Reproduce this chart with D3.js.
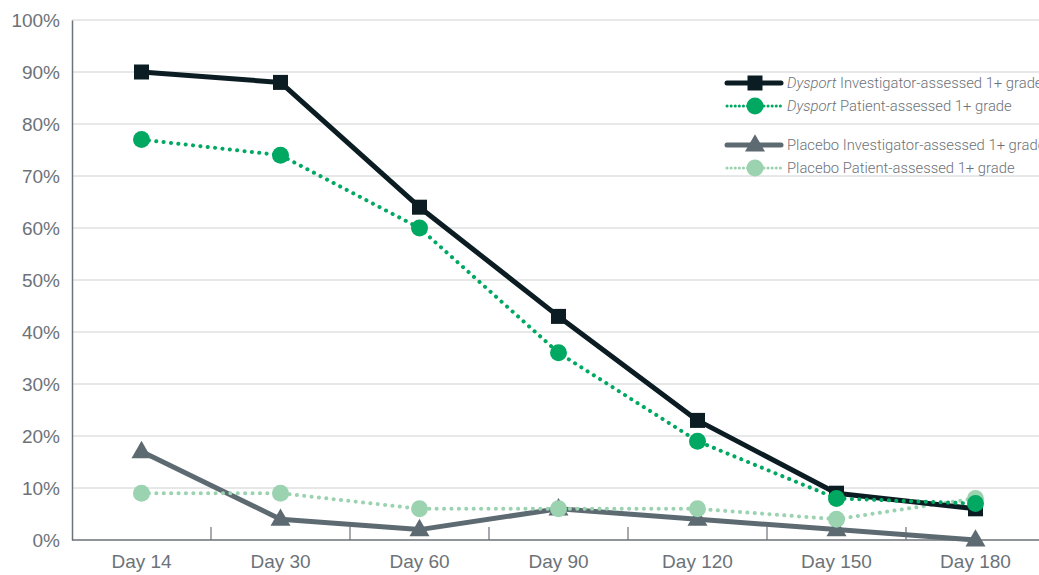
<!DOCTYPE html>
<html><head><meta charset="utf-8">
<script src="https://cdn.jsdelivr.net/npm/d3@7"></script>
<style>
body{margin:0;background:#fff;}
svg{display:block;font-family:Roboto,"Liberation Sans",Arial,sans-serif;font-weight:300;}
</style></head>
<body>
<svg id="chart" width="1039" height="575"></svg>
<script>
const categories = ["Day 14","Day 30","Day 60","Day 90","Day 120","Day 150","Day 180"];
const dysportInvestigator = [90, 88, 64, 43, 23, 9, 6];
const dysportPatient = [77, 74, 60, 36, 19, 8, 7];
const placeboInvestigator = [17, 4, 2, 6, 4, 2, 0];
const placeboPatient = [9, 9, 6, 6, 6, 4, 8];
const yTicks = [0,10,20,30,40,50,60,70,80,90,100];

const series = [
  {key:"pi", values: placeboInvestigator, color:"#5e6a72", width:5, dotted:false, marker:"triangle", italic:"", label:"Placebo Investigator-assessed 1+ grade"},
  {key:"pp", values: placeboPatient, color:"#9bd3b1", width:4, dotted:true, marker:"circle", italic:"", label:"Placebo Patient-assessed 1+ grade"},
  {key:"di", values: dysportInvestigator, color:"#0b1d23", width:5, dotted:false, marker:"square", italic:"Dysport", label:" Investigator-assessed 1+ grade"},
  {key:"dp", values: dysportPatient, color:"#00a862", width:4, dotted:true, marker:"circle", italic:"Dysport", label:" Patient-assessed 1+ grade"}
];

const svg = d3.select("#chart");
const mLeft = 72, mTop = 20, mBottom = 540;
const x = d3.scaleBand().domain(categories).range([mLeft, mLeft + 139*7]);
const y = d3.scaleLinear().domain([0,100]).range([mBottom, mTop]);
const textColor = "#6c7278";

// gridlines
svg.append("g").selectAll("line").data(yTicks.filter(d=>d>0)).join("line")
  .attr("x1", mLeft).attr("x2", 1039)
  .attr("y1", d=>y(d)).attr("y2", d=>y(d))
  .attr("stroke", "#cfd0d2").attr("stroke-width", 1);

// y axis
const yAxis = svg.append("g").attr("transform", `translate(${mLeft},0)`)
  .call(d3.axisLeft(y).tickValues(yTicks).tickFormat(d=>d+"%").tickSize(0).tickPadding(12));
yAxis.select(".domain").attr("stroke", "#6c7278").attr("stroke-width", 1.5);
yAxis.selectAll("text").attr("fill", textColor).attr("font-size", 19).attr("font-family", "inherit");

// x axis
const xAxis = svg.append("g").attr("transform", `translate(0,${mBottom})`)
  .call(d3.axisBottom(x).tickSize(0).tickPadding(15));
xAxis.select(".domain").attr("stroke", "#6c7278").attr("stroke-width", 1.5).attr("d", `M${mLeft},0H1039`);
xAxis.selectAll("text").attr("fill", textColor).attr("font-size", 19).attr("font-family", "inherit");
// separator ticks between categories
svg.append("g").selectAll("line").data(categories.slice(1)).join("line")
  .attr("x1", d=>x(d)).attr("x2", d=>x(d))
  .attr("y1", mBottom-13).attr("y2", mBottom)
  .attr("stroke", "#6c7278").attr("stroke-width", 1.2);

const cx = c => x(c) + x.bandwidth()/2;
const line = d3.line().x((d,i)=>cx(categories[i])).y(d=>y(d));

function marker(g, type, px, py, color){
  if(type==="square"){
    g.append("rect").attr("x", px-7.5).attr("y", py-7.5).attr("width",15).attr("height",15).attr("fill",color);
  } else if(type==="circle"){
    g.append("circle").attr("cx",px).attr("cy",py).attr("r",8.5).attr("fill",color);
  } else {
    const s = 20, h = s*Math.sqrt(3)/2;
    g.append("path").attr("d", `M${px},${py-h*0.62}L${px+s/2},${py+h*0.38}L${px-s/2},${py+h*0.38}Z`).attr("fill",color);
  }
}

series.forEach(s=>{
  const g = svg.append("g");
  g.append("path").datum(s.values).attr("d", line)
    .attr("fill","none").attr("stroke", s.color).attr("stroke-width", s.width)
    .attr("stroke-linecap", s.dotted ? "round" : "butt")
    .attr("stroke-linejoin","round")
    .attr("stroke-dasharray", s.dotted ? "0.1 7.3" : null);
  s.values.forEach((v,i)=> marker(g, s.marker, cx(categories[i]), y(v), s.color));
});

// legend
const legendOrder = [series[2], series[3], series[0], series[1]];
const legendY = [83, 106, 145, 168];
legendOrder.forEach((s,i)=>{
  const g = svg.append("g");
  const ly = legendY[i];
  g.append("line").attr("x1",727).attr("x2",781).attr("y1",ly).attr("y2",ly)
    .attr("stroke", s.color).attr("stroke-width", s.dotted ? 3 : 5)
    .attr("stroke-linecap","round")
    .attr("stroke-dasharray", s.dotted ? "0.1 4" : null);
  marker(g, s.marker, 755, ly, s.color);
  const t = g.append("text").attr("x", 787).attr("y", ly+5).attr("fill", textColor).attr("font-size", 14.8);
  if(s.italic) t.append("tspan").attr("font-style","italic").text(s.italic);
  t.append("tspan").text(s.label);
});
</script>
</body></html>
